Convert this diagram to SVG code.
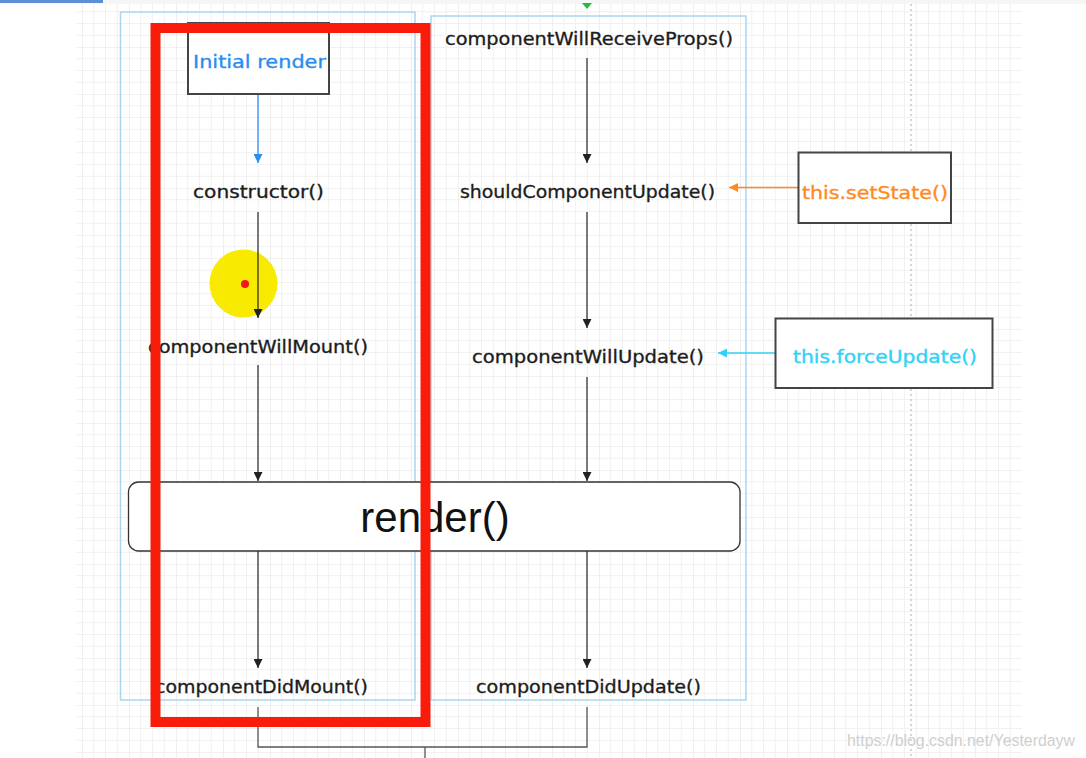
<svg xmlns="http://www.w3.org/2000/svg" width="1086" height="758" viewBox="0 0 1086 758">
<defs>
<pattern id="grid" x="82" y="0" width="47" height="47" patternUnits="userSpaceOnUse">
<path d="M11.75 0V47M23.5 0V47M35.25 0V47M0 11.75H47M0 23.5H47M0 35.25H47" stroke="#f1f1f1" stroke-width="1" fill="none"/>
<path d="M0 0V47M0 0H47" stroke="#e4e4e4" stroke-width="1.2" fill="none"/>
</pattern>
<marker id="ah" viewBox="0 0 10 10" refX="10" refY="5" markerWidth="9" markerHeight="9" markerUnits="userSpaceOnUse" orient="auto">
<path d="M0 0L10 5L0 10Z" fill="#222"/>
</marker>
<marker id="ahBlue" viewBox="0 0 10 10" refX="10" refY="5" markerWidth="9" markerHeight="9" markerUnits="userSpaceOnUse" orient="auto">
<path d="M0 0L10 5L0 10Z" fill="#2b8cf0"/>
</marker>
<marker id="ahOrange" viewBox="0 0 10 10" refX="10" refY="5" markerWidth="9" markerHeight="9" markerUnits="userSpaceOnUse" orient="auto">
<path d="M0 0L10 5L0 10Z" fill="#ff8a1e"/>
</marker>
<marker id="ahCyan" viewBox="0 0 10 10" refX="10" refY="5" markerWidth="9" markerHeight="9" markerUnits="userSpaceOnUse" orient="auto">
<path d="M0 0L10 5L0 10Z" fill="#2fd2f7"/>
</marker>
</defs>
<style>
.lbl{font-family:"DejaVu Sans","Liberation Sans",sans-serif;font-size:18.5px;fill:#1c1c1c;stroke:#1c1c1c;stroke-width:0.35;text-anchor:middle}
.box{fill:#fff;stroke:#444;stroke-width:2}
.cont{fill:none;stroke:#a9d6ee;stroke-width:1.5}
.conn{fill:none;stroke:#333;stroke-width:1.3}
</style>
<rect width="1086" height="758" fill="#fff"/>
<rect x="0" y="0" width="1086" height="4" fill="#f6f6f6"/>
<rect x="0" y="0" width="103" height="3" fill="#5b8fd6"/>
<rect x="76" y="4" width="946" height="754" fill="url(#grid)"/>
<line x1="911" y1="4" x2="911" y2="758" stroke="#c8c8c8" stroke-width="1.5" stroke-dasharray="2 3"/>

<g id="containers">
<rect class="cont" x="120.5" y="12" width="294.5" height="688"/>
<rect class="cont" x="431" y="16" width="315" height="684"/>
</g>

<g id="cursor">
<circle cx="243.5" cy="283.5" r="34" fill="#f8ea00"/>
</g>

<g id="connectors">
<line x1="258" y1="94" x2="258" y2="163" stroke="#2b8cf0" stroke-width="1.3" marker-end="url(#ahBlue)"/>
<line class="conn" x1="258" y1="212" x2="258" y2="318" marker-end="url(#ah)"/>
<line class="conn" x1="258" y1="365" x2="258" y2="481" marker-end="url(#ah)"/>
<line class="conn" x1="258" y1="551" x2="258" y2="668" marker-end="url(#ah)"/>
<line class="conn" x1="587" y1="58" x2="587" y2="163" marker-end="url(#ah)"/>
<line class="conn" x1="587" y1="212" x2="587" y2="328" marker-end="url(#ah)"/>
<line class="conn" x1="587" y1="377" x2="587" y2="481" marker-end="url(#ah)"/>
<line class="conn" x1="587" y1="551" x2="587" y2="668" marker-end="url(#ah)"/>
<line x1="798" y1="187.5" x2="729" y2="187.5" stroke="#ff8a1e" stroke-width="1.5" marker-end="url(#ahOrange)"/>
<line x1="776" y1="353" x2="718" y2="353" stroke="#2fd2f7" stroke-width="1.5" marker-end="url(#ahCyan)"/>
<polyline points="258,707 258,747 587,747 587,707" fill="none" stroke="#555" stroke-width="1.3"/>
<line x1="425" y1="747" x2="425" y2="758" stroke="#555" stroke-width="1.3"/>
<path d="M582 3L592 3L587 9Z" fill="#22bb44"/>
</g>

<g id="cursor-dot">
<circle cx="245" cy="284" r="4" fill="#f01818"/>
</g>

<g id="initial-render">
<rect class="box" x="188" y="23" width="141" height="71" stroke="#555"/>
<text class="lbl" x="259.5" y="68" textLength="133" lengthAdjust="spacingAndGlyphs" style="fill:#2b8cf0;stroke:#2b8cf0">Initial render</text>
</g>

<g id="constructor">
<text class="lbl" x="258.5" y="198" textLength="131" lengthAdjust="spacingAndGlyphs">constructor()</text>
</g>

<g id="componentWillMount">
<text class="lbl" x="258" y="353" textLength="220" lengthAdjust="spacingAndGlyphs">componentWillMount()</text>
</g>

<g id="render">
<rect x="128.5" y="482" width="611.5" height="69" rx="10" ry="10" fill="#fff" stroke="#333" stroke-width="1.3"/>
<text x="435" y="532" text-anchor="middle" font-family="Liberation Sans, Arial, sans-serif" font-size="42" fill="#111">render()</text>
</g>

<g id="componentDidMount">
<text class="lbl" x="261.5" y="693" textLength="213" lengthAdjust="spacingAndGlyphs">componentDidMount()</text>
</g>

<g id="componentWillReceiveProps">
<text class="lbl" x="589" y="45" textLength="288" lengthAdjust="spacingAndGlyphs">componentWillReceiveProps()</text>
</g>

<g id="shouldComponentUpdate">
<text class="lbl" x="587.5" y="198" textLength="255" lengthAdjust="spacingAndGlyphs">shouldComponentUpdate()</text>
</g>

<g id="componentWillUpdate">
<text class="lbl" x="588" y="363" textLength="232" lengthAdjust="spacingAndGlyphs">componentWillUpdate()</text>
</g>

<g id="componentDidUpdate">
<text class="lbl" x="588.5" y="693" textLength="225" lengthAdjust="spacingAndGlyphs">componentDidUpdate()</text>
</g>

<g id="setState">
<rect class="box" x="798.5" y="152.5" width="152.5" height="70.5" stroke="#333"/>
<text class="lbl" x="875" y="199" textLength="146" lengthAdjust="spacingAndGlyphs" style="fill:#ff8a1e;stroke:#ff8a1e">this.setState()</text>
</g>

<g id="forceUpdate">
<rect class="box" x="775.5" y="318.5" width="217" height="69.5" stroke="#333"/>
<text class="lbl" x="885" y="363" textLength="184" lengthAdjust="spacingAndGlyphs" style="fill:#2fd2f7;stroke:#2fd2f7">this.forceUpdate()</text>
</g>

<g id="highlight">
<rect x="155.5" y="28" width="270" height="694" fill="none" stroke="#fa1c0a" stroke-width="10"/>
</g>

<g id="watermark">
<text x="847" y="746" font-family="Liberation Sans, Arial, sans-serif" font-size="16" fill="#cfcfcf" textLength="228" lengthAdjust="spacingAndGlyphs">https://blog.csdn.net/Yesterdayw</text>
</g>
</svg>
